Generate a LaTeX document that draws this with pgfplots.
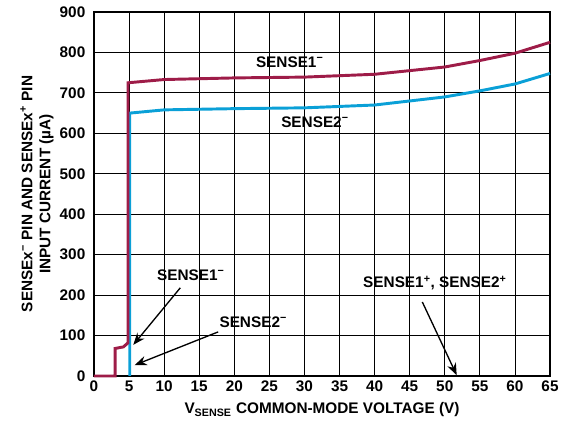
\documentclass[border=0pt]{standalone}
\usepackage{pgfplots}
\pgfplotsset{compat=1.18}
\usepackage{fontspec}
\setmainfont{Liberation Sans}
\usetikzlibrary{arrows.meta}
\definecolor{senseone}{RGB}{158,28,72}
\definecolor{sensetwo}{RGB}{10,160,215}
\begin{document}
\begin{tikzpicture}
\begin{axis}[
  scale only axis, width=342pt, height=273pt,
  xmin=0, xmax=65, ymin=0, ymax=900,
  xtick={0,5,...,65}, ytick={0,100,...,900},
  grid=major, major grid style={black, line width=0.6pt},
  axis line style={line width=1.3pt},
  tick style={draw=none},
  ticklabel style={font=\bfseries\fontsize{11.5}{13}\selectfont},
  yticklabel style={xshift=-3pt},
  /pgf/number format/assume math mode=true,
  label style={font=\bfseries\fontsize{11.5}{13.5}\selectfont},
  xlabel={V\textsubscript{SENSE} COMMON-MODE VOLTAGE (V)},
  xlabel style={at={(rel axis cs:0.5,0)}, anchor=center, yshift=-25.5pt},
  ylabel={SENSEx\textsuperscript{−} PIN AND SENSEx\textsuperscript{+} PIN\\INPUT CURRENT (µA)},
  ylabel style={align=center, at={(axis description cs:-0.125,0.5)}, anchor=center},
  clip=false,
]
% SENSE1+, SENSE2+
\addplot[black, line width=2pt] coordinates {(0,0) (65,0)};
% SENSE2-
\addplot[sensetwo, line width=2.2pt] coordinates {
  (5.1,0) (5.1,650) (10,658) (20,661) (30,663) (40,670) (50,690) (55,705) (60,722) (65,748)};
% SENSE1-
\addplot[senseone, line width=2.2pt] coordinates {
  (0,0) (3,0) (3,68) (4.2,72) (4.85,82) (4.85,725) (10,733) (20,737) (30,739) (40,746) (50,764) (55,780) (60,798) (65,825)};

\tikzset{lbl/.style={font=\bfseries\fontsize{11.5}{13}\selectfont}}
\node[lbl] at (axis cs:27.9,776) {SENSE1\textsuperscript{−}};
\node[lbl] at (axis cs:31.5,628) {SENSE2\textsuperscript{−}};
\node[lbl] at (axis cs:13.8,249) {SENSE1\textsuperscript{−}};
\node[lbl] at (axis cs:22.7,134) {SENSE2\textsuperscript{−}};
\node[lbl] at (axis cs:48.6,230) {SENSE1\textsuperscript{+}, SENSE2\textsuperscript{+}};
\draw[line width=1pt, -{Stealth[length=9pt,width=7pt]}] (axis cs:12.3,218) -- (axis cs:5.6,77);
\draw[line width=1pt, -{Stealth[length=9pt,width=7pt]}] (axis cs:17.7,109) -- (axis cs:5.8,27);
\draw[line width=1pt, -{Stealth[length=9pt,width=7pt]}] (axis cs:46.8,183) -- (axis cs:51.7,2);
% page margins as in the reference
\path (rel axis cs:0,0) ++(-70.5pt,-39.75pt) coordinate (bl);
\path (rel axis cs:1,1) ++(15pt,9pt) coordinate (tr);
\path (bl) rectangle (tr);
\end{axis}
\end{tikzpicture}
\end{document}
